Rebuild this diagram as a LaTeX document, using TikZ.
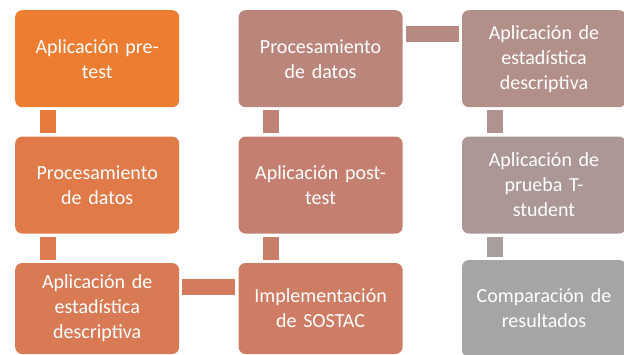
\documentclass[tikz,border=0pt]{standalone}
\usepackage{fontspec}
\setmainfont{Carlito}
\usetikzlibrary{positioning}
\definecolor{stA}{HTML}{ED7D31}
\definecolor{stB}{HTML}{E07A48}
\definecolor{stC}{HTML}{D87B55}
\definecolor{stD}{HTML}{CE7C64}
\definecolor{stE}{HTML}{C57F70}
\definecolor{stF}{HTML}{BA857B}
\definecolor{stG}{HTML}{B38F89}
\definecolor{stH}{HTML}{AA9796}
\definecolor{stI}{HTML}{A5A5A5}
\tikzset{
	stage/.style={rectangle, rounded corners=7pt, minimum width=164pt, minimum height=97pt,
		inner sep=0pt, text width=150pt, align=center, text=white,
		font=\fontsize{20}{25}\selectfont},
	link/.style={line width=16pt, shorten >=3pt, shorten <=3pt}
}

\begin{document}
\begin{tikzpicture}[x=1pt, y=-1pt, node distance=29pt and 59pt]
	\useasboundingbox (0,0) rectangle (624,354);
	% first column, top to bottom
	\node[stage, fill=stA, anchor=north west] (pretest) at (15,10) {Aplicación pre-\\test};
	\node[stage, fill=stB, below=of pretest] (procA) {Procesamiento\\de datos};
	\node[stage, fill=stC, below=of procA, minimum height=91pt] (descA) {Aplicación de\\estadística\\descriptiva};
	% second column, bottom to top
	\node[stage, fill=stD, right=of descA, minimum height=91pt] (sostac) {Implementación\\de SOSTAC};
	\node[stage, fill=stE, right=of procA] (posttest) {Aplicación post-\\test};
	\node[stage, fill=stF, right=of pretest] (procB) {Procesamiento\\de datos};
	% third column, top to bottom
	\node[stage, fill=stG, right=of procB] (descB) {Aplicación de\\estadística\\descriptiva};
	\node[stage, fill=stH, right=of posttest] (tstudent) {Aplicación de\\prueba T-\\student};
	\node[stage, fill=stI, right=of sostac] (compare) {Comparación de\\resultados};

	\draw[link, draw=stA!50!stB] ([xshift=33pt]pretest.south west) -- ([xshift=33pt]procA.north west);
	\draw[link, draw=stB!50!stC] ([xshift=33pt]procA.south west) -- ([xshift=33pt]descA.north west);
	\draw[link, draw=stC!50!stD] ([yshift=-24pt]descA.north east) -- ([yshift=-24pt]sostac.north west);
	\draw[link, draw=stD!50!stE] ([xshift=33pt]sostac.north west) -- ([xshift=33pt]posttest.south west);
	\draw[link, draw=stE!50!stF] ([xshift=33pt]posttest.north west) -- ([xshift=33pt]procB.south west);
	\draw[link, draw=stF!50!stG] ([yshift=-24pt]procB.north east) -- ([yshift=-24pt]descB.north west);
	\draw[link, draw=stG!50!stH] ([xshift=33pt]descB.south west) -- ([xshift=33pt]tstudent.north west);
	\draw[link, draw=stH!50!stI] ([xshift=33pt]tstudent.south west) -- ([xshift=33pt]compare.north west);
\end{tikzpicture}
\end{document}
